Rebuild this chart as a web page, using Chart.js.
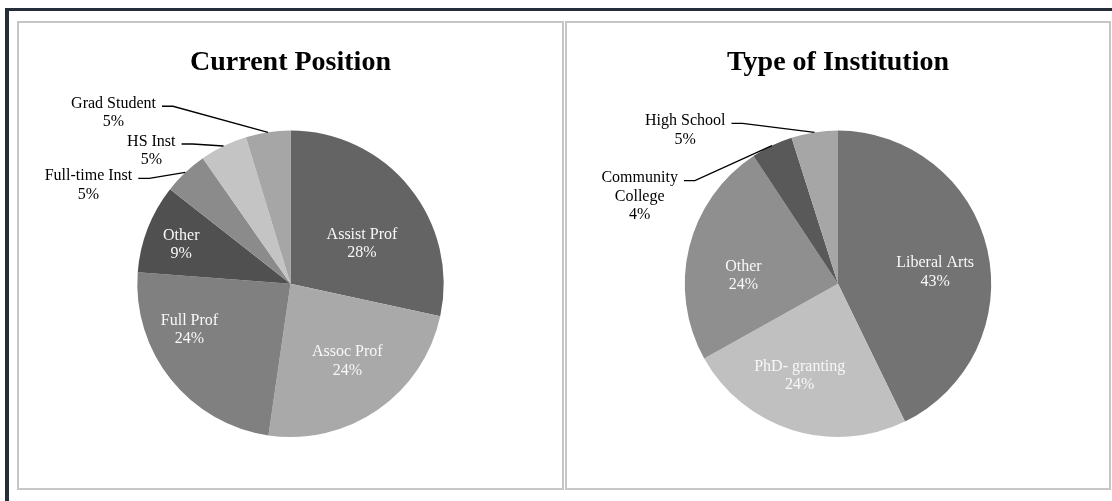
<!DOCTYPE html>
<html>
<head>
<meta charset="utf-8">
<script src="https://cdn.jsdelivr.net/npm/chart.js@4/dist/chart.umd.min.js"></script>
<style>
  html, body { margin: 0; padding: 0; background: #fff; }
  body { width: 1112px; height: 501px; position: relative; overflow: hidden; }
  .frame { position: absolute; left: 5px; top: 8px; width: 1200px; height: 600px;
           border-top: 3px solid #252d3a; border-left: 4px solid #252d3a; }
  .panel { position: absolute; top: 21px; height: 469px; box-sizing: border-box;
           border: 2px solid #c6c6c6; background: #fff; }
  #left { left: 17px; width: 547px; }
  #right { left: 565px; width: 546px; }
  canvas { display: block; }
</style>
</head>
<body>
<div class="frame"></div>
<div class="panel" id="left"><canvas id="posChart" width="543" height="465"></canvas></div>
<div class="panel" id="right"><canvas id="instChart" width="542" height="465"></canvas></div>

<script>
// Current Position (percent of respondents)
const positionLabels = ['Assist Prof', 'Assoc Prof', 'Full Prof', 'Other', 'Full-time Inst', 'HS Inst', 'Grad Student'];
const positionValues = [28.4, 23.9, 23.9, 9.4, 4.7, 5.0, 4.7];
const positionColors = ['#646464', '#a9a9a9', '#808080', '#505050', '#8b8b8b', '#c4c4c4', '#a6a6a6'];

// Type of Institution (percent of respondents)
const institutionLabels = ['Liberal Arts', 'PhD- granting', 'Other', 'Community College', 'High School'];
const institutionValues = [42.8, 24.1, 23.8, 4.4, 4.9];
const institutionColors = ['#737373', '#c0c0c0', '#8f8f8f', '#595959', '#a6a6a6'];

// label placement: inside labels are nudged in polar terms, outside ones get a leader line
const positionPlacement = [
    { r: 0.54, da: 8.6 },
    { r: 0.62, da: -2 },
    { r: 0.72, da: 15 },
    { r: 0.76, da: -1 },
    { out: true, dx: -36, dy: 6 },
    { out: true, dx: -31, dy: -2 },
    { out: true, dx: -95, dy: -26 }
];
const institutionPlacement = [
    { r: 0.64, da: 5.3 },
    { r: 0.64, da: 5.5 },
    { r: 0.62, da: -8 },
    { out: true, dx: -77, dy: 35 },
    { out: true, dx: -72, dy: -9 }
];

const FONT = '"Liberation Serif", "Times New Roman", serif';

function wrapText(ctx, text, maxWidth) {
    const words = text.split(' ');
    const lines = [];
    let line = '';
    words.forEach(w => {
        const test = line ? line + ' ' + w : w;
        if (line && ctx.measureText(test).width > maxWidth) {
            lines.push(line);
            line = w;
        } else {
            line = test;
        }
    });
    if (line) lines.push(line);
    return lines;
}

// Draws the Excel-style data labels (name + rounded percent)
const sliceLabels = {
    id: 'sliceLabels',
    afterDatasetsDraw(chart, args, opts) {
        const ctx = chart.ctx;
        const meta = chart.getDatasetMeta(0);
        const values = chart.data.datasets[0].data;
        const total = values.reduce((a, b) => a + b, 0);
        const lineH = 18.5;
        ctx.save();
        ctx.font = '16px ' + FONT;
        ctx.textAlign = 'center';
        ctx.textBaseline = 'middle';
        meta.data.forEach((arc, i) => {
            const p = arc.getProps(['x', 'y', 'startAngle', 'endAngle', 'outerRadius'], true);
            const mid = (p.startAngle + p.endAngle) / 2;
            const place = opts.placement[i];
            const pct = Math.round(values[i] / total * 100) + '%';
            if (place.out) {
                const lines = wrapText(ctx, chart.data.labels[i], 95).concat([pct]);
                const ex = p.x + Math.cos(mid) * p.outerRadius;
                const ey = p.y + Math.sin(mid) * p.outerRadius;
                const kx = ex + place.dx, ky = ey + place.dy;
                const seg = 11, gap = 6;
                ctx.strokeStyle = '#000';
                ctx.lineWidth = 1.3;
                ctx.beginPath();
                ctx.moveTo(ex, ey);
                ctx.lineTo(kx, ky);
                ctx.lineTo(kx - seg, ky);
                ctx.stroke();
                const w = Math.max(...lines.map(l => ctx.measureText(l).width));
                const cx = kx - seg - gap - w / 2;
                ctx.fillStyle = '#000';
                lines.forEach((l, j) => ctx.fillText(l, cx, ky - 2.5 + j * lineH));
            } else {
                const a = mid + place.da * Math.PI / 180;
                const r = place.r * p.outerRadius;
                const cx = p.x + Math.cos(a) * r, cy = p.y + Math.sin(a) * r + 1.5;
                ctx.fillStyle = '#f8f8f8';
                ctx.fillText(chart.data.labels[i], cx, cy - lineH / 2);
                ctx.fillText(pct, cx, cy + lineH / 2);
            }
        });
        ctx.restore();
    }
};

function makePie(id, title, labels, values, colors, placement) {
    return new Chart(document.getElementById(id), {
        type: 'pie',
        data: {
            labels: labels,
            datasets: [{
                data: values,
                backgroundColor: colors,
                borderWidth: 0
            }]
        },
        options: {
            responsive: false,
            animation: false,
            devicePixelRatio: 1,
            layout: { padding: { top: 0, bottom: 51, left: 0, right: 0 } },
            plugins: {
                legend: { display: false },
                tooltip: { enabled: false },
                title: {
                    display: true,
                    text: title,
                    color: '#000',
                    font: { family: FONT, size: 28, weight: 'bold', lineHeight: 1.2 },
                    padding: { top: 23, bottom: 51 }
                },
                sliceLabels: { placement: placement }
            }
        },
        plugins: [sliceLabels]
    });
}

makePie('posChart', 'Current Position', positionLabels, positionValues, positionColors, positionPlacement);
makePie('instChart', 'Type of Institution', institutionLabels, institutionValues, institutionColors, institutionPlacement);
</script>
</body>
</html>
